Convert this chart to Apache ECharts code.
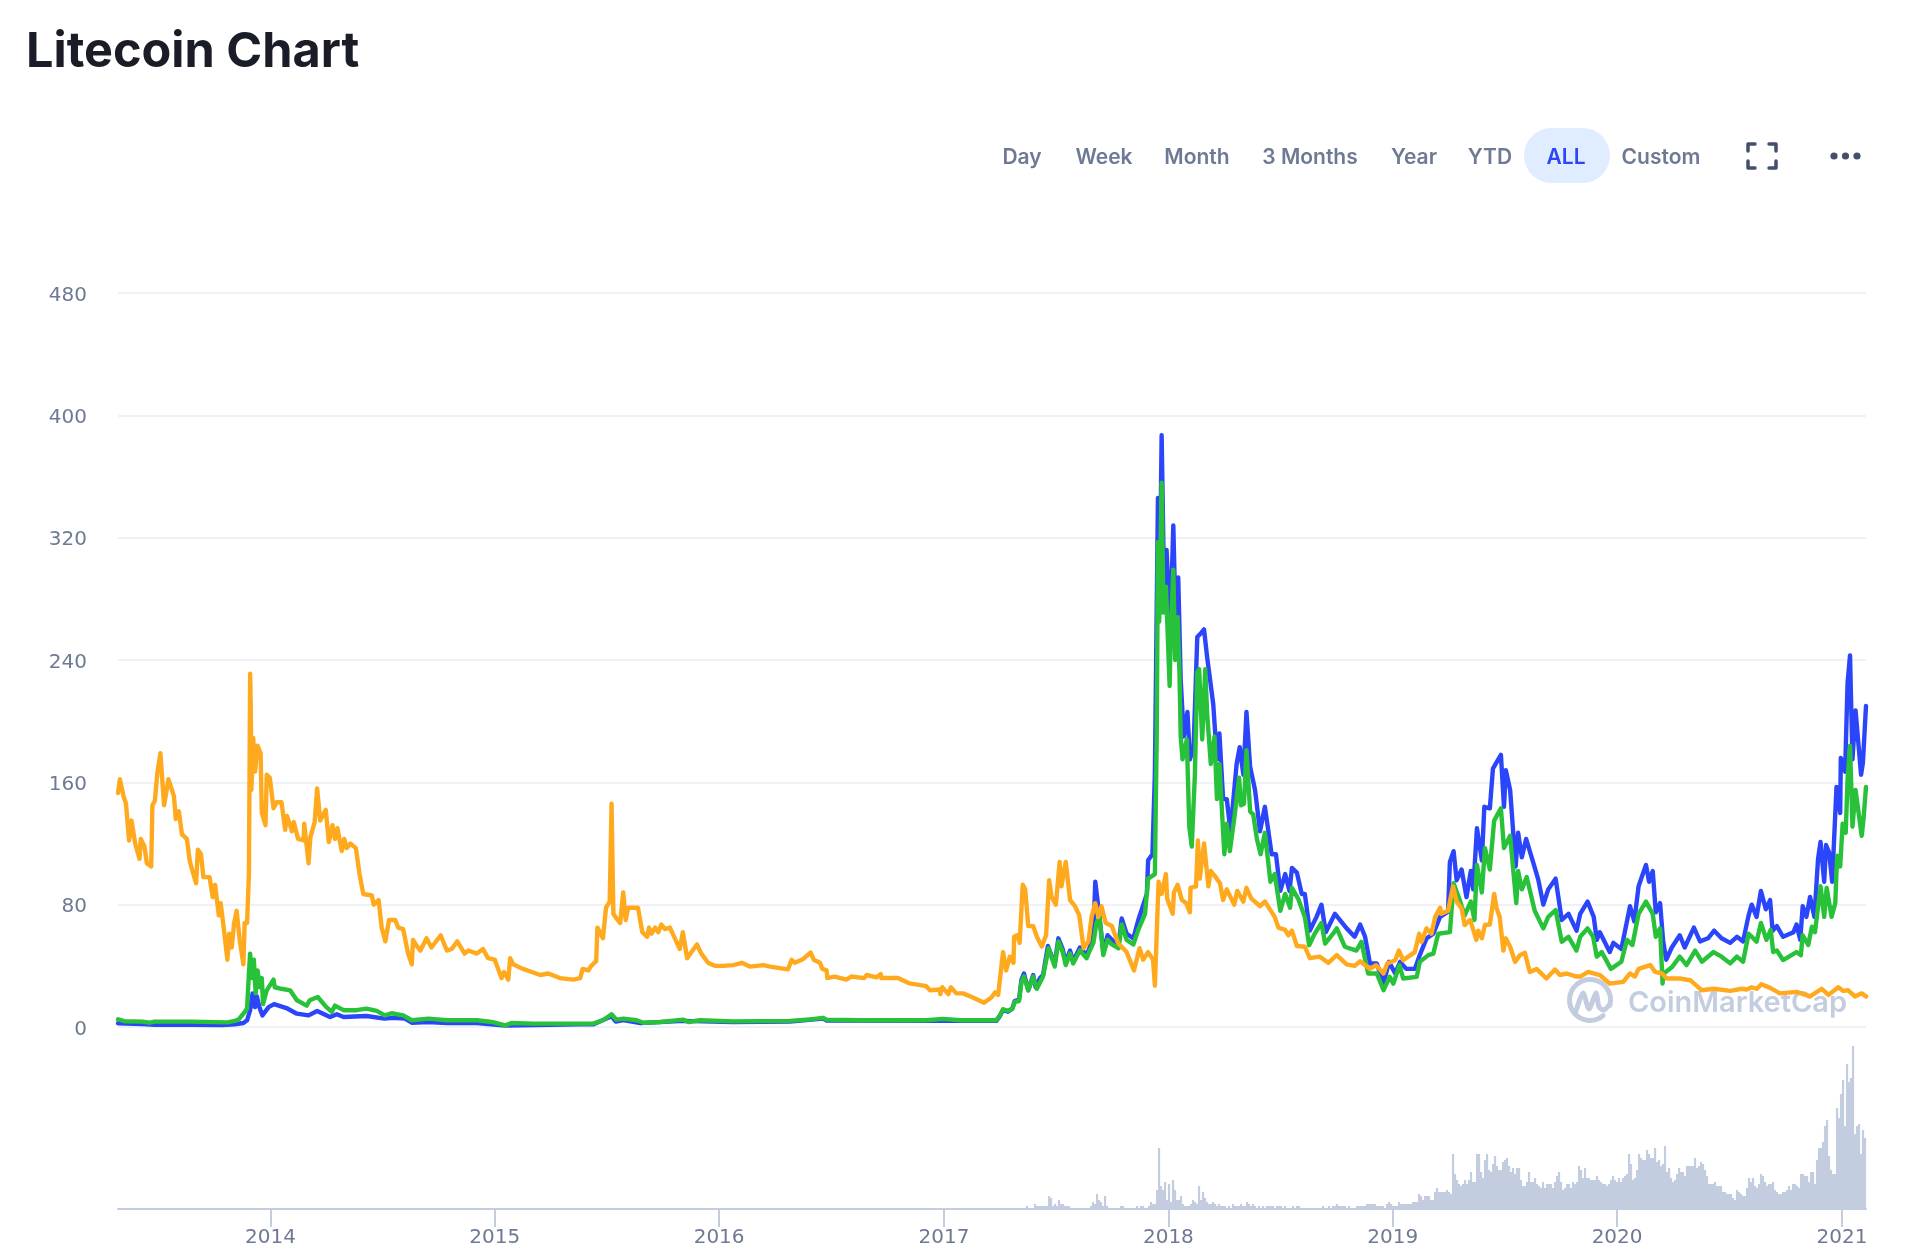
<!DOCTYPE html>
<html>
<head>
<meta charset="utf-8">
<title>Litecoin Chart</title>
<style>
  html, body { margin: 0; padding: 0; background: #fff; }
  #chart { width: 1912px; height: 1258px; }
</style>
<script src="https://cdn.jsdelivr.net/npm/echarts@6/dist/echarts.min.js"></script>
</head>
<body>
<div id="chart"></div>
<script>
// ── Data ──────────────────────────────────────────────────────────────────────
// Line series are [days since 2013-04-28, value on the left axis]

const lastDay = 2844;
const yearLabels = ['2014', '2015', '2016', '2017', '2018', '2019', '2020', '2021'];
const yearDays = [248, 613, 978, 1344, 1709, 2074, 2439, 2805];
const priceTicks = [0, 80, 160, 240, 320, 400, 480];
const rangeLabels = ['Day', 'Week', 'Month', '3 Months', 'Year', 'YTD', 'ALL', 'Custom'];

const priceUsd = [
  [0,2.5],[40,2],[60,1.5],[120,1.5],[170,1.3],[190,1.8],[204,2.6],[210,4.4],[215,11],[219,22],[223,13],[226,20],[230,13],[235,7.6],
  [245,13],[254,15],[274,12.4],[291,8.7],[310,7.6],[324,10.5],[345,6.5],[356,8.3],[367,6.5],[404,7.2],[434,5.5],[448,6],[467,5.5],
  [478,2.8],[505,3.3],[535,2.6],[584,2.6],[630,1],[752,1.7],[773,1.7],[803,7],[810,3.5],[822,4.5],[850,2.5],[920,4],[1000,3.2],
  [1093,3.5],[1147,5.5],[1153,4.2],[1315,4],[1429,4],[1435,7.3],[1440,11.3],[1448,10],[1455,12],[1459,17],[1466,18],[1470,31],[1474,35],
  [1481,24],[1489,34],[1493,26],[1500,32],[1505,34],[1513,53],[1516,54],[1524,41],[1530,58],[1537,51],[1542,42],[1549,50],[1554,43],
  [1565,52],[1576,47],[1581,52],[1587,60],[1590,95],[1596,75],[1603,49],[1610,60],[1617,57],[1628,54],[1633,71],[1641,61],[1652,58],
  [1660,70],[1674,87],[1676,109],[1683,113],[1687,165],[1692,346],[1695,289],[1698,387],[1702,286],[1706,312],[1712,260],[1717,328],
  [1721,260],[1725,294],[1729,227],[1732,228],[1734,190],[1740,206],[1744,175],[1750,183],[1756,255],[1763,258],[1767,260],[1772,242],
  [1782,211],[1788,175],[1792,192],[1798,149],[1804,149],[1810,128],[1820,172],[1825,183],[1831,165],[1836,206],[1842,170],[1850,155],
  [1858,128],[1866,144],[1877,113],[1884,113],[1891,89],[1899,100],[1906,89],[1910,104],[1918,101],[1926,87],[1931,87],[1939,63],
  [1950,72],[1958,80],[1965,62],[1980,74],[1999,64.5],[2012,59],[2021,67],[2029,59],[2037,41.5],[2048,41.5],[2059,28.4],[2068,42.6],
  [2078,35],[2086,42.6],[2096,38],[2110,38],[2117,46],[2129,58],[2140,61],[2151,72],[2164,75.4],[2167,108],[2173,115],[2178,96],
  [2186,103],[2194,85],[2201,102],[2205,90],[2211,130],[2219,109],[2223,144],[2232,143],[2237,169],[2250,178],[2255,144],[2258,168],
  [2265,155],[2274,105],[2278,127],[2284,111],[2291,123],[2303,107],[2311,96],[2319,80],[2327,90],[2339,97],[2349,70],[2360,74],
  [2373,63],[2379,74],[2391,82],[2401,72],[2406,57],[2411,62],[2427,49],[2433,55],[2446,51],[2460,79],[2467,69],[2474,92],[2486,106],
  [2491,95],[2497,102],[2502,75],[2509,81],[2514,56],[2519,44],[2528,52],[2541,60],[2549,52],[2564,65],[2574,56],[2587,58],[2597,63],
  [2609,58],[2623,55],[2634,59],[2644,56],[2653,73],[2658,80],[2666,72],[2673,89],[2681,77],[2688,83],[2692,63],[2699,66],[2709,59],
  [2726,62],[2731,67],[2737,57],[2741,79],[2747,72],[2753,85],[2760,72],[2766,110],[2770,121],[2776,95],[2779,119],[2784,114],[2789,95],
  [2796,157],[2802,140],[2803,176],[2810,167],[2814,225],[2818,243],[2822,175],[2827,207],[2836,165],[2839,173],[2844,210]
];

const marketCap = [
  [0,5],[10,3.8],[40,3.5],[52,2.8],[60,3.5],[120,3.5],[178,3],[190,4],[196,4.8],[204,8.7],[210,12],[213,35],[215,48],[218,32],[221,44],
  [224,22],[227,37],[231,26],[234,32],[236,15],[242,24],[253,31],[255,26],[266,25],[280,24],[291,17.5],[307,14],[312,17.5],[325,19.6],
  [339,13],[348,10],[353,14],[367,11],[388,11],[404,12],[421,10.5],[434,7.6],[445,9],[464,7.6],[478,4.4],[505,5.5],[535,4.4],[584,4.4],
  [608,3.3],[630,1],[640,2.6],[676,2.2],[752,2.2],[773,2.2],[789,4.4],[803,8.3],[811,4.8],[822,5.5],[844,4.4],[855,2.8],[882,3.3],
  [920,4.8],[928,3.3],[947,4.4],[1001,3.7],[1093,4],[1126,5],[1147,6],[1153,4.8],[1207,4.4],[1315,4.4],[1343,5.3],[1370,4.4],[1429,4.4],
  [1435,7.7],[1440,11.6],[1448,10.5],[1455,12],[1459,16.4],[1466,17],[1470,29.6],[1474,33],[1481,24],[1489,33],[1495,25],[1505,33],
  [1514,51.5],[1517,51],[1524,39.5],[1530,56],[1537,49],[1542,40.5],[1549,48],[1554,41.6],[1565,50],[1576,45],[1581,50],[1587,55],
  [1592,68],[1597,72],[1603,47],[1610,57],[1617,54],[1628,51.5],[1633,67],[1641,57],[1652,54],[1660,63.5],[1671,74],[1676,97],[1687,100],
  [1690,190],[1692,317],[1694,265],[1698,356],[1701,271],[1705,288],[1711,223],[1713,260],[1717,299],[1720,240],[1724,268],[1727,232],
  [1729,190],[1732,175],[1739,188],[1743,131],[1747,118],[1752,164],[1756,232],[1759,234],[1764,188],[1769,234],[1772,205],[1778,172],
  [1784,190],[1788,149],[1792,172],[1800,113],[1804,133],[1809,115],[1817,139],[1824,163],[1827,145],[1832,146],[1836,181],[1842,141],
  [1847,139],[1853,123],[1859,113],[1866,127],[1875,95],[1882,100],[1891,76],[1899,87],[1907,78],[1910,91],[1920,84],[1931,72],[1938,53.5],
  [1947,61],[1958,68],[1964,54.6],[1977,61],[1983,64.5],[1996,52.5],[2015,50],[2023,55.7],[2034,35],[2048,35],[2059,24],[2069,32.8],
  [2075,28.4],[2085,40.4],[2091,31.7],[2113,32.8],[2118,42.6],[2132,47],[2140,48],[2148,61],[2167,62],[2173,94],[2183,83],[2191,73],
  [2201,82],[2207,70],[2211,106],[2219,88],[2224,117],[2232,103],[2239,135],[2250,143],[2255,117],[2265,125],[2275,81],[2278,102],
  [2284,90],[2292,98],[2305,76],[2319,64.5],[2327,72],[2339,76.5],[2349,55.7],[2360,59],[2373,50],[2379,59],[2391,64.5],[2400,59],[2406,46],
  [2414,49],[2429,38],[2446,42.7],[2455,57],[2464,53.6],[2474,74],[2486,82],[2497,74],[2502,59],[2509,64.5],[2513,28.4],[2515,35],[2528,39],
  [2541,46],[2552,40.5],[2566,50],[2577,42.7],[2596,49],[2609,46],[2623,41.6],[2634,46],[2644,42.7],[2653,61],[2666,55.8],[2673,68],[2682,57],
  [2689,63.5],[2693,49],[2699,50],[2709,43.8],[2731,49],[2738,47],[2741,60],[2750,53.6],[2756,65.6],[2761,62],[2770,92],[2776,72],[2780,91],
  [2788,72],[2794,81],[2797,112],[2802,105],[2806,133],[2811,127],[2814,162],[2818,184],[2822,131],[2827,155],[2837,125],[2840,136],[2844,157]
];

const priceBtc = [
  [0,153],[3,162],[9,151],[13,146],[18,122],[22,135],[28,120],[35,110],[37,123],[43,118],[47,107],[54,105],[56,145],[60,148],[64,166],[69,179],
  [75,145],[82,162],[91,151],[94,136],[99,141],[104,126],[112,123],[117,108],[127,94],[130,116],[135,113],[139,98],[149,98],[154,85],[158,93],
  [164,73],[167,81],[172,65],[178,44],[181,61],[185,52],[189,68],[193,76],[198,57],[204,41],[206,68],[210,68],[213,100],[215,231],[216,210],
  [217,155],[220,189],[223,167],[227,184],[232,179],[234,140],[240,132],[242,165],[247,163],[253,143],[258,147],[266,147],[272,129],[275,138],
  [283,128],[286,134],[293,123],[302,122],[303,133],[310,107],[313,124],[320,134],[324,156],[329,135],[338,142],[343,121],[349,132],[353,123],
  [357,130],[364,115],[368,123],[372,117],[378,120],[387,117],[393,100],[399,87],[413,86],[416,80],[424,83],[429,65],[435,56],[441,70],[451,70],
  [456,65],[464,64],[472,48],[478,41],[480,57],[486,53],[492,50],[502,58],[510,52],[525,60],[535,50],[543,51],[552,56],[564,48],[570,50],[584,48],
  [594,51],[602,45],[613,44],[624,32],[628,36],[635,31],[638,45],[643,41],[659,38],[673,36],[687,34],[700,35],[719,32],[741,31],[752,32],[756,38],
  [765,37],[770,40],[778,43],[780,65],[789,58],[794,78],[800,82],[803,146],[806,74],[811,71],[817,68],[822,88],[826,70],[830,78],[846,78],[853,62],
  [861,59],[864,65],[868,61],[874,65],[879,62],[884,67],[890,64],[898,65],[906,58],[914,51],[919,62],[926,45],[933,49],[942,54],[949,48],[960,42],
  [971,40],[985,40],[1001,40.5],[1015,42],[1028,39.5],[1050,40.5],[1061,39.5],[1090,37.7],[1096,44],[1101,42],[1115,44.5],[1127,48.7],[1132,44],
  [1142,42],[1146,38],[1153,37],[1154,32],[1166,33],[1185,31],[1193,33],[1214,32],[1218,34],[1234,32.4],[1241,34.6],[1242,32],[1269,32],[1288,28.5],
  [1315,26.7],[1321,24],[1337,24.5],[1338,21.5],[1341,26],[1351,21.5],[1355,26],[1364,22],[1375,22],[1391,19.3],[1409,15.8],[1421,19.3],[1427,22.6],
  [1432,21],[1436,35],[1440,49],[1445,37],[1451,46],[1457,42],[1458,59],[1463,60],[1467,55],[1472,93],[1476,90],[1481,66],[1489,66],[1495,59],
  [1503,52.6],[1510,60],[1515,96],[1519,85],[1526,80],[1532,108],[1535,92],[1542,108],[1549,83],[1557,79],[1564,73],[1571,51.5],[1579,56],[1584,72],
  [1590,81],[1595,72],[1600,79],[1607,68],[1617,66],[1627,55],[1641,49],[1653,37],[1662,51.5],[1668,44],[1676,49],[1684,44],[1687,27],[1693,95],
  [1698,87],[1705,100],[1707,84],[1716,74],[1718,88],[1724,93],[1731,83],[1738,81],[1744,75],[1745,91],[1754,92],[1757,122],[1760,97],[1767,120],
  [1774,92],[1778,102],[1786,98],[1793,94],[1798,83],[1804,90],[1816,80],[1821,89],[1831,82],[1836,91],[1844,84],[1858,79],[1866,82],[1882,72],
  [1888,65],[1899,63.5],[1904,60],[1910,63],[1918,53],[1931,52.5],[1939,45],[1955,46],[1969,42],[1983,47],[1999,41],[2012,40],[2021,43],[2037,38],
  [2047,40.4],[2059,35],[2065,41.5],[2078,43.7],[2084,50],[2091,43.7],[2110,49],[2117,61],[2121,55.7],[2129,64.5],[2137,61],[2143,72],[2151,78],
  [2153,74],[2164,76],[2172,92],[2178,82],[2186,77.6],[2191,66.7],[2200,70],[2210,57],[2213,63],[2219,58],[2224,66.7],[2232,67],[2239,87],[2243,77.6],
  [2248,72],[2254,50],[2258,58],[2265,52.5],[2273,42.6],[2281,47],[2289,48.5],[2297,36],[2308,38],[2324,31.7],[2338,37.6],[2346,34],[2357,35],[2373,33],
  [2379,33],[2392,36],[2411,34],[2427,28.4],[2449,29.5],[2460,35],[2468,33],[2474,38],[2493,40.5],[2501,36],[2512,35],[2520,31.7],[2541,31.7],[2558,30.6],
  [2577,24],[2596,25],[2623,23.6],[2642,25],[2650,24.5],[2658,26],[2666,25],[2674,28],[2688,25.6],[2704,22],[2731,23],[2753,20],[2772,25],[2783,21],
  [2799,26],[2807,23.6],[2815,24],[2826,20],[2837,22],[2844,20]
];

// Volume has no axis in the picture, so these are heights on a 0-164 scale,
// one bar every volumeStep days from volumeStart
const volumeStart = 1453;
const volumeStep = 3.254;
const volume = [
  2,2,2,2,2,2,2,2,4,2,2,2,6,4,4,4,4,4,4,14,12,4,6,4,10,6,6,4,4,4,
  2,2,2,2,2,2,2,2,2,2,4,8,6,16,10,8,4,14,4,2,2,2,2,2,2,4,4,2,2,2,
  2,2,2,4,2,4,4,2,2,4,8,6,6,20,62,24,20,28,10,26,8,30,20,10,10,14,6,4,4,4,
  6,10,8,6,24,10,18,12,8,6,6,8,6,4,6,4,4,4,2,4,2,6,4,4,4,6,4,4,8,6,
  4,6,4,2,4,2,4,2,4,4,4,4,2,4,4,4,2,4,2,2,2,4,2,4,4,2,2,2,2,2,
  2,2,2,2,2,2,4,2,2,4,2,4,4,6,4,4,4,4,2,4,2,2,2,4,4,4,4,4,6,6,
  6,6,6,4,4,4,4,2,6,8,6,4,4,4,8,6,6,6,6,6,6,8,8,8,16,14,10,14,14,14,
  10,10,18,22,18,
  18,18,18,20,18,16,56,36,30,26,24,26,30,26,30,38,28,28,56,56,38,32,50,56,40,38,46,54,44,40,
  40,48,50,52,44,38,42,36,42,42,30,24,24,28,38,28,28,32,26,24,22,28,22,26,26,26,22,28,34,38,
  28,20,22,26,26,22,28,26,28,44,40,32,42,32,32,30,30,30,34,30,28,26,26,24,26,30,34,30,28,32,
  28,32,34,36,56,46,30,32,40,56,52,50,50,60,56,52,52,62,48,50,44,46,64,38,42,32,28,30,36,42,
  38,38,34,44,44,44,44,52,42,44,48,46,40,34,26,26,26,28,24,24,24,18,18,16,16,16,12,10,20,18,
  16,14,14,22,32,28,32,24,22,26,36,34,28,24,26,26,28,20,18,16,16,18,18,20,24,20,26,26,24,22,
  36,36,34,34,28,38,38,26,50,62,62,68,84,90,54,40,36,36,102,92,116,130,84,146,128,132,164,76,84,86,
  56,80,72
];

// ── Colours ───────────────────────────────────────────────────────────────────

const blue = '#2b45fb';
const green = '#28c23a';
const orange = '#ffaa1e';
const gridLine = '#eef1f6';
const axisBlue = '#c4cde0';
const labelGrey = '#6e7a94';
const iconDark = '#434f6b';

// ── Toolbar and watermark ─────────────────────────────────────────────────────

const rangeCentres = [1022, 1104, 1197, 1310, 1414, 1490, 1566, 1661];

const buttons = rangeLabels.map((label, i) => ({
  type: 'text',
  z: 10,
  style: {
    x: rangeCentres[i],
    y: 158,
    text: label,
    align: 'center',
    verticalAlign: 'middle',
    font: '600 21px Inter',
    fill: label === 'ALL' ? '#2b45fb' : labelGrey
  }
}));

const corner = pts => ({
  type: 'polyline',
  shape: { points: pts },
  style: { stroke: iconDark, lineWidth: 3.5, lineCap: 'round', lineJoin: 'round', fill: null }
});

const toolbarIcons = [
  corner([[1748, 151], [1748, 144], [1755, 144]]),
  corner([[1769, 144], [1776, 144], [1776, 151]]),
  corner([[1748, 161], [1748, 168], [1755, 168]]),
  corner([[1769, 168], [1776, 168], [1776, 161]]),
  ...[1834, 1845.5, 1857].map(cx => ({
    type: 'circle',
    shape: { cx, cy: 156, r: 3.6 },
    style: { fill: iconDark }
  }))
];

const watermark = [
  {
    type: 'arc',
    shape: { cx: 1590, cy: 1000, r: 20.5, startAngle: 50 * Math.PI / 180, endAngle: 375 * Math.PI / 180, clockwise: true },
    style: { stroke: axisBlue, lineWidth: 5, lineCap: 'round', fill: null }
  },
  {
    type: 'polyline',
    shape: { points: [[1576, 1011], [1583, 993], [1589, 1009], [1596, 993], [1599, 1007], [1604, 1010], [1610, 1004]], smooth: 0.25 },
    style: { stroke: axisBlue, lineWidth: 5, lineCap: 'round', lineJoin: 'round', fill: null }
  },
  {
    type: 'text',
    style: {
      x: 1628,
      y: 1003,
      text: 'CoinMarketCap',
      verticalAlign: 'middle',
      font: '600 29px Inter',
      fill: axisBlue
    }
  }
];

// ── Chart ─────────────────────────────────────────────────────────────────────

const chart = echarts.init(document.getElementById('chart'), null, { renderer: 'canvas' });

const lineSeries = (name, data, color, z) => ({
  name,
  type: 'line',
  data,
  xAxisIndex: 0,
  yAxisIndex: 0,
  z,
  showSymbol: false,
  silent: true,
  lineStyle: { color, width: 4.4, join: 'round', cap: 'round' },
  itemStyle: { color }
});

chart.setOption({
  animation: false,
  backgroundColor: '#fff',
  title: {
    text: 'Litecoin Chart',
    left: 21,
    top: 23,
    textStyle: { fontFamily: 'Inter', fontSize: 48.6, fontWeight: 700, color: '#1a1c27' }
  },
  grid: [
    { left: 118, right: 46, top: 293, height: 734 },
    { left: 118, right: 46, top: 1046, height: 164 }
  ],
  xAxis: [
    {
      type: 'value',
      gridIndex: 0,
      min: 0,
      max: lastDay,
      show: false,
      splitLine: { show: false }
    },
    {
      type: 'value',
      gridIndex: 1,
      min: 0,
      max: lastDay,
      offset: -1,
      axisLine: { onZero: false, lineStyle: { color: axisBlue, width: 2 } },
      axisTick: { customValues: yearDays, length: 18, lineStyle: { color: axisBlue, width: 2 } },
      axisLabel: {
        customValues: yearDays,
        margin: 19,
        fontFamily: 'DejaVu Sans',
        fontSize: 20,
        color: labelGrey,
        formatter: v => yearLabels[yearDays.indexOf(v)]
      },
      splitLine: { show: false }
    }
  ],
  yAxis: [
    {
      type: 'value',
      gridIndex: 0,
      min: 0,
      max: priceTicks[priceTicks.length - 1],
      interval: priceTicks[1],
      axisLine: { show: false },
      axisTick: { show: false },
      axisLabel: {
        margin: 31,
        formatter: v => `{tick|${v}}`,
        rich: { tick: { padding: [5, 0, 0, 0], fontFamily: 'DejaVu Sans', fontSize: 20, color: labelGrey } }
      },
      splitLine: { lineStyle: { color: gridLine, width: 2 } }
    },
    {
      type: 'value',
      gridIndex: 1,
      min: 0,
      max: 164,
      show: false,
      splitLine: { show: false }
    }
  ],
  graphic: [
    {
      type: 'rect',
      z: 5,
      shape: { x: 1524, y: 128, width: 86, height: 55, r: 27.5 },
      style: { fill: '#e0ecff' }
    },
    ...buttons,
    ...toolbarIcons,
    ...watermark
  ],
  series: [
    lineSeries('Price', priceUsd, blue, 3),
    lineSeries('Market Cap', marketCap, green, 4),
    lineSeries('Price in BTC', priceBtc, orange, 5),
    {
      name: 'Volume',
      type: 'bar',
      xAxisIndex: 1,
      yAxisIndex: 1,
      barWidth: 2.2,
      silent: true,
      itemStyle: { color: axisBlue },
      data: volume.map((v, i) => [volumeStart + i * volumeStep, v])
    }
  ]
});
</script>
</body>
</html>
